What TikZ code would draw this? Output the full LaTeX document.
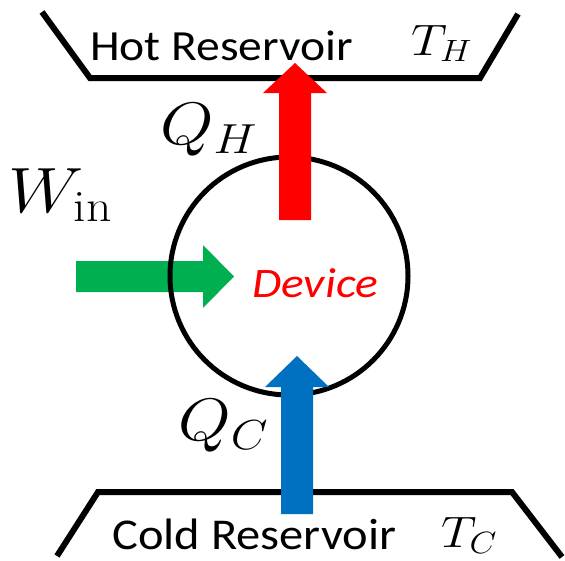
\RequirePackage{fix-cm}
\documentclass[tikz,border=0pt]{standalone}
\usepackage{graphicx}
\usepackage{fontspec}
\newfontfamily\carlito{Carlito}
\definecolor{hotred}{HTML}{FF0000}
\definecolor{workgreen}{HTML}{00B050}
\definecolor{coldblue}{HTML}{0070C0}
\newcommand{\wbox}[2]{\resizebox{#1pt}{\height}{#2}}
\tikzset{
  wall/.style={line width=6pt, line join=miter, black},
  lbl/.style={inner sep=0pt, anchor=base west},
  reslabel/.style={lbl, font=\carlito\fontsize{43}{50}\selectfont},
  mathlbl/.style={lbl, font=\fontsize{#1}{#1}\selectfont},
}
\begin{document}
\begin{tikzpicture}[x=1pt,y=-1pt]
\useasboundingbox (0,0) rectangle (565,560);
% work arrow (under circle)
\fill[workgreen] (76,261) -- (203,261) -- (203,245) -- (234,276.5) -- (203,308) -- (203,292) -- (76,292) -- cycle;
% device
\node[circle, draw, line width=5pt, minimum size=238pt, inner sep=0pt] (device) at (289,276) {};
\node[lbl, text=hotred, font=\carlito\itshape\fontsize{42}{48}\selectfont] (devlabel) at (252,297) {\wbox{126}{Device}};
% reservoirs
\draw[wall] (42,12) -- (90,78) -- (480,78) -- (518,14);
\draw[wall] (57,556) -- (98,492) -- (512,492) -- (562,557);
% heat arrows (over lines)
\fill[hotred] (279,220) -- (279,93) -- (263,93) -- (295,63) -- (327,93) -- (311,93) -- (311,220) -- cycle;
\fill[coldblue] (281,514) -- (281,387) -- (265,387) -- (297,356) -- (329,387) -- (313,387) -- (313,514) -- cycle;
% labels
\node[reslabel] (hot) at (90,60) {\wbox{263}{Hot Reservoir}};
\node[reslabel, font=\carlito\fontsize{44}{50}\selectfont] (cold) at (112,549) {\wbox{284}{Cold Reservoir}};
\node[mathlbl=44] (TH) at (411,55) {\wbox{61}{$T_H$}};
\node[mathlbl=44] (TC) at (441,547) {\wbox{56}{$T_C$}};
\node[mathlbl=60] (QH) at (160,144) {\wbox{97}{$Q_H$}};
\node[mathlbl=60] (QC) at (178,440) {\wbox{90}{$Q_C$}};
\node[mathlbl=64] (W) at (8,212) {\wbox{104}{$W_{\rm in}$}};
\end{tikzpicture}
\end{document}
